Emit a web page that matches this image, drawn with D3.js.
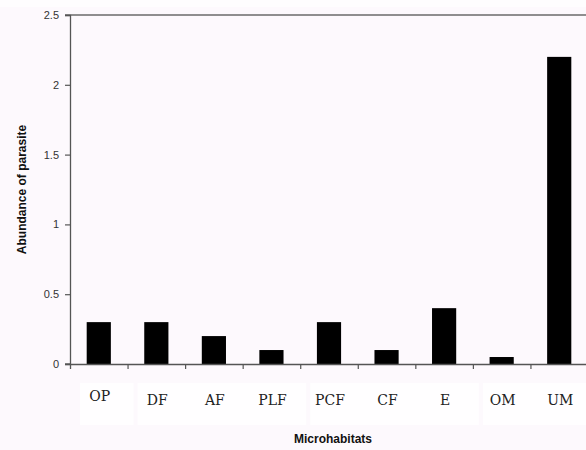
<!DOCTYPE html>
<html><head><meta charset="utf-8">
<script src="https://cdn.jsdelivr.net/npm/d3@7"></script>
<style>
html,body{margin:0;padding:0;background:#fdf9fd;}
svg{display:block;}
</style></head>
<body>
<script>
const categories = ["OP","DF","AF","PLF","PCF","CF","E","OM","UM"];
const values = [0.3,0.3,0.2,0.1,0.3,0.1,0.4,0.05,2.2];
const yTicks = [0,0.5,1,1.5,2,2.5];
const yTickLabels = ["0","0.5","1","1.5","2","2.5"];
const xTitle = "Microhabitats";
const yTitle = "Abundance of parasite";

const W = 586, H = 450;
const m = {left:70, top:15, bottom:86};
const plotW = 518;
const svg = d3.select("body").append("svg").attr("width",W).attr("height",H);

svg.append("rect").attr("x",0).attr("y",0).attr("width",W).attr("height",H).attr("fill","#fdf9fd");
svg.append("rect").attr("x",0).attr("y",0).attr("width",W).attr("height",7).attr("fill","#fefdfe");

const x = d3.scaleBand().domain(categories).range([m.left, m.left+plotW]).paddingInner(0.58).paddingOuter(0.29);
const y = d3.scaleLinear().domain([0,2.5]).range([H-m.bottom, m.top]);

// white label boxes
const boxes = [["OP","OP"],["DF","PLF"],["PCF","E"],["OM","UM"]];
const step = x.step();
boxes.forEach(([a,b])=>{
  const x0 = x(a) - x.paddingOuter()*step + 10, x1 = x(b) + x.bandwidth() + x.paddingOuter()*step + 8;
  svg.append("rect").attr("x",x0).attr("y",y(0)+19).attr("width",x1-x0-2).attr("height",42).attr("fill","#ffffff").attr("opacity",0.8);
});

// top border
svg.append("line").attr("x1",m.left-5).attr("x2",W).attr("y1",y(2.5)).attr("y2",y(2.5))
  .attr("stroke","#6a6a6a").attr("stroke-width",1.6);

// bars
svg.selectAll("rect.bar").data(values).enter().append("rect").attr("class","bar")
  .attr("x",(d,i)=>x(categories[i]))
  .attr("width",x.bandwidth())
  .attr("y",d=>y(d))
  .attr("height",d=>y(0)-y(d))
  .attr("fill","#000");

// y axis
const yAxis = d3.axisLeft(y).tickValues(yTicks).tickFormat((d,i)=>yTickLabels[i]).tickSize(5).tickPadding(6);
const gy = svg.append("g").attr("transform",`translate(${m.left},0)`).call(yAxis);
gy.select(".domain").attr("stroke","#555").attr("stroke-width",1.3);
gy.selectAll(".tick line").attr("stroke","#555").attr("stroke-width",1.2);
gy.selectAll(".tick text").attr("fill","#333").attr("font-family","Liberation Sans, Arial, sans-serif").attr("font-size",11);

// x axis line with ticks at band boundaries
const xl = d3.scaleLinear().domain([0,categories.length]).range([m.left, m.left+plotW]);
const xAxis = d3.axisBottom(xl).ticks(categories.length).tickValues(d3.range(1,categories.length)).tickSize(5).tickFormat("");
const gx = svg.append("g").attr("transform",`translate(0,${y(0)})`).call(xAxis);
gx.select(".domain").attr("stroke","#555").attr("stroke-width",1.3);
gx.selectAll(".tick line").attr("stroke","#555").attr("stroke-width",1.2);
svg.append("line").attr("x1",m.left-5).attr("x2",m.left).attr("y1",y(0)).attr("y2",y(0)).attr("stroke","#555").attr("stroke-width",1.3);

// category labels
svg.selectAll("text.cat").data(categories).enter().append("text").attr("class","cat")
  .attr("x",d=>x(d)+x.bandwidth()/2+1)
  .attr("y",(d,i)=> y(0)+ (i===0?37:41))
  .attr("text-anchor","middle")
  .attr("font-family","DejaVu Serif, serif")
  .attr("font-size",14)
  .attr("fill","#222")
  .text(d=>d);

// titles
svg.append("text").attr("x",333).attr("y",y(0)+79).attr("text-anchor","middle")
  .attr("font-family","Liberation Sans, Arial, sans-serif").attr("font-weight","bold").attr("font-size",12)
  .attr("fill","#111").text(xTitle);
svg.append("text").attr("transform",`translate(26,${(y(0)+y(2.5))/2}) rotate(-90)`).attr("text-anchor","middle")
  .attr("font-family","Liberation Sans, Arial, sans-serif").attr("font-weight","bold").attr("font-size",12)
  .attr("fill","#111").text(yTitle);
</script>
</body></html>
